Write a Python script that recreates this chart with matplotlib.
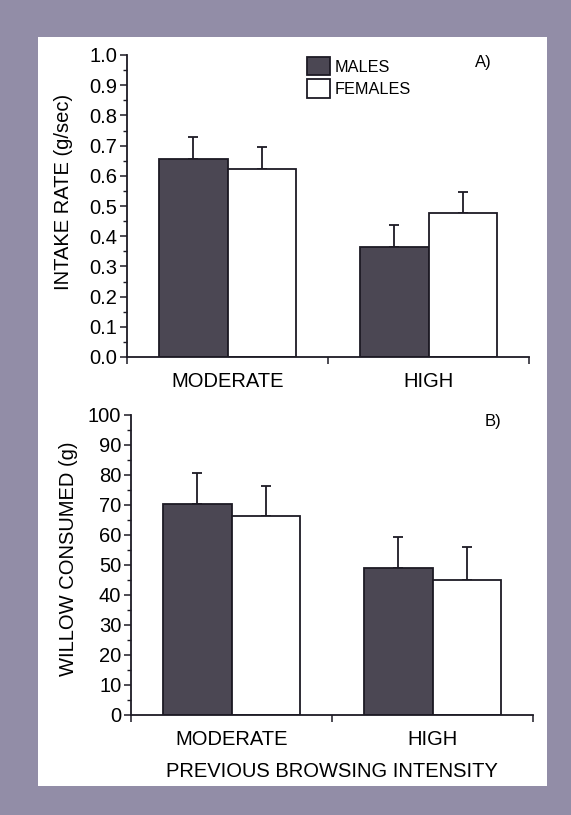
import matplotlib
matplotlib.use("Agg")
import matplotlib.pyplot as plt
from matplotlib.patches import Rectangle, Patch
from matplotlib.ticker import MultipleLocator, FixedLocator, NullFormatter, FixedFormatter

plt.rcParams['font.family'] = ['Liberation Sans', 'DejaVu Sans']

# data
groups = ["MODERATE", "HIGH"]
intake_males = [0.655, 0.365]
intake_males_se = [0.072, 0.071]
intake_females = [0.623, 0.476]
intake_females_se = [0.071, 0.071]
willow_males = [70.5, 49.0]
willow_males_se = [10.3, 10.2]
willow_females = [66.3, 45.0]
willow_females_se = [10.2, 11.0]

dark = "#4b4753"
edge = "#1d1a24"
bg = "#928da7"

fig = plt.figure(figsize=(5.71, 8.15), dpi=100)
fig.patch.set_facecolor(bg)
fig.patches.append(Rectangle((38/571, 1-786/815), (547-38)/571, (786-37)/815,
                             transform=fig.transFigure, facecolor="white",
                             edgecolor="none", zorder=-5))

ax1 = fig.add_axes([127/571, 1-357/815, 402/571, 302/815])
ax2 = fig.add_axes([131/571, 1-715/815, 402/571, 300/815])

centers = [0.5, 1.5]
w = 0.34


def draw(ax, males, males_se, females, females_se, ymax, major, minor, fmt):
    ax.patch.set_alpha(0)
    xm = [c - w/2 for c in centers]
    xf = [c + w/2 for c in centers]
    ax.bar(xm, males, w, color=dark, edgecolor=edge, linewidth=1.3, zorder=2)
    ax.bar(xf, females, w, color="white", edgecolor=edge, linewidth=1.3, zorder=2)
    ax.errorbar(xm, males, yerr=[[0]*len(males), males_se], fmt="none",
                ecolor=edge, elinewidth=1.3, capsize=3.6, capthick=1.3, zorder=1)
    ax.errorbar(xf, females, yerr=[[0]*len(females), females_se], fmt="none",
                ecolor=edge, elinewidth=1.3, capsize=3.6, capthick=1.3, zorder=1)
    ax.set_xlim(0, 2)
    ax.set_ylim(0, ymax)
    ax.spines["top"].set_visible(False)
    ax.spines["right"].set_visible(False)
    for s in ("left", "bottom"):
        ax.spines[s].set_linewidth(1.3)
        ax.spines[s].set_color(edge)
    ax.yaxis.set_major_locator(MultipleLocator(major))
    ax.yaxis.set_minor_locator(MultipleLocator(minor))
    ax.yaxis.set_major_formatter(fmt)
    ax.tick_params(axis="y", which="major", direction="out", length=5, width=1.1,
                   color=edge, labelsize=14.5, pad=2)
    ax.tick_params(axis="y", which="minor", direction="out", length=3, width=1.0,
                   color=edge)
    ax.xaxis.set_major_locator(FixedLocator([0, 1, 2]))
    ax.xaxis.set_major_formatter(NullFormatter())
    ax.xaxis.set_minor_locator(FixedLocator(centers))
    ax.xaxis.set_minor_formatter(FixedFormatter(groups))
    ax.tick_params(axis="x", which="major", direction="out", length=5, width=1.1,
                   color=edge)
    ax.tick_params(axis="x", which="minor", length=0, labelsize=14.5, pad=11)


draw(ax1, intake_males, intake_males_se, intake_females, intake_females_se,
     1.0, 0.1, 0.05, plt.FuncFormatter(lambda v, p: f"{v:.1f}"))
draw(ax2, willow_males, willow_males_se, willow_females, willow_females_se,
     100, 10, 5, plt.FuncFormatter(lambda v, p: f"{v:.0f}"))

ax1.set_ylabel("INTAKE RATE (g/sec)", fontsize=14.5)
ax1.yaxis.set_label_coords(-0.134, 0.545)
ax2.set_ylabel("WILLOW CONSUMED (g)", fontsize=14.5)
ax2.yaxis.set_label_coords(-0.132, 0.52)
ax2.text(0.5, -0.187, "PREVIOUS BROWSING INTENSITY", transform=ax2.transAxes,
         ha="center", va="center", fontsize=14.5)

ax1.text(0.887, 0.975, "A)", transform=ax1.transAxes, ha="center", va="center",
         fontsize=12)
ax2.text(0.90, 0.977, "B)", transform=ax2.transAxes, ha="center", va="center",
         fontsize=12)

handles = [Patch(facecolor=dark, edgecolor=edge, linewidth=1.3, label="MALES"),
           Patch(facecolor="white", edgecolor=edge, linewidth=1.3, label="FEMALES")]
ax1.legend(handles=handles, loc="upper left", bbox_to_anchor=(0.448, 0.993),
           frameon=False, fontsize=11.7, handlelength=1.42, handleheight=1.35,
           handletextpad=0.3, labelspacing=0.25, borderaxespad=0, borderpad=0)

fig.savefig("out.png", dpi=100, facecolor=bg)
